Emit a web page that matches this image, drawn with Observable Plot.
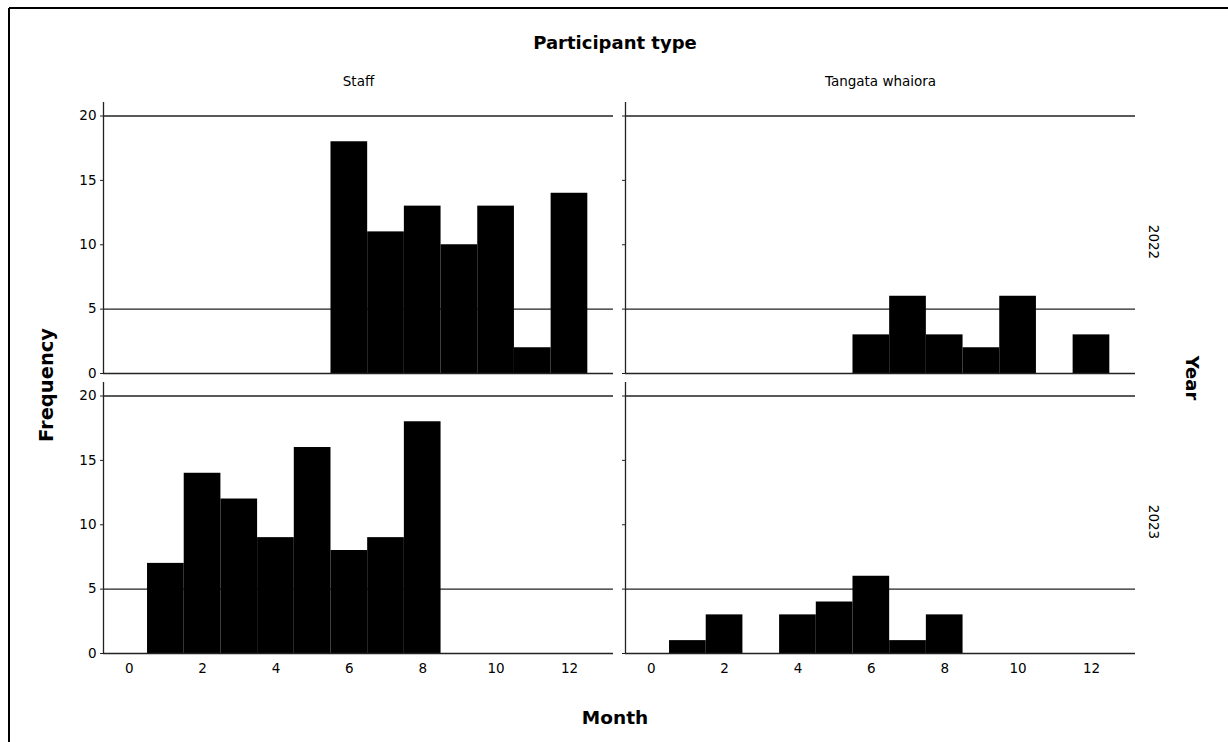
<!DOCTYPE html>
<html><head><meta charset="utf-8">
<script src="https://cdn.jsdelivr.net/npm/d3@7"></script>
<script src="https://cdn.jsdelivr.net/npm/@observablehq/plot@0.6"></script>
<style>body{margin:0;background:#fff;}</style>
</head><body><div id="chart"></div>
<script>
const types = ["Staff", "Tangata whaiora"];
const years = ["2022", "2023"];
const months = [1, 2, 3, 4, 5, 6, 7, 8, 9, 10, 11, 12];
// frequency per month (index 0 = month 1)
const staff2022 = [0, 0, 0, 0, 0, 18, 11, 13, 10, 13, 2, 14];
const tangata2022 = [0, 0, 0, 0, 0, 3, 6, 3, 2, 6, 0, 3];
const staff2023 = [7, 14, 12, 9, 16, 8, 9, 18, 0, 0, 0, 0];
const tangata2023 = [1, 3, 0, 3, 4, 6, 1, 3, 0, 0, 0, 0];
const xTicks = [0, 2, 4, 6, 8, 10, 12];
const yTicks = [0, 5, 10, 15, 20];
const gridValues = [5, 20];
const xDomain = [-0.7, 13.2];
const yDomain = [0, 21.05];

const series = [
  {type: "Staff", year: "2022", counts: staff2022},
  {type: "Tangata whaiora", year: "2022", counts: tangata2022},
  {type: "Staff", year: "2023", counts: staff2023},
  {type: "Tangata whaiora", year: "2023", counts: tangata2023}
];
const data = series.flatMap(s => months.map((m, i) => ({type: s.type, year: s.year, month: m, count: s.counts[i]})))
  .filter(d => d.count > 0);

const font = "'DejaVu Sans', 'Liberation Sans', Arial, sans-serif";
const lineColor = "#222";

const chart = Plot.plot({
  width: 1228, height: 742,
  marginLeft: 102, marginRight: 93, marginTop: 101, marginBottom: 88,
  style: {fontFamily: font, fontSize: "13.5px", color: "#000", background: "#fff"},
  x: {domain: xDomain},
  y: {domain: yDomain},
  fx: {domain: types, paddingInner: 0.023, paddingOuter: 0, axis: null},
  fy: {domain: years, paddingInner: 0.032, paddingOuter: 0, axis: null},
  marks: [
    Plot.ruleY(gridValues, {stroke: lineColor, strokeWidth: 1.3}),
    Plot.rectY(data, {x1: d => d.month - 0.5, x2: d => d.month + 0.5, y: "count", fx: "type", fy: "year", fill: "#000"}),
    Plot.ruleY([0], {stroke: lineColor, strokeWidth: 1.3}),
    Plot.ruleX([xDomain[0]], {stroke: lineColor, strokeWidth: 1.3}),
    Plot.axisY({ticks: yTicks, tickSize: 3, facetAnchor: null, tickFormat: () => "", label: null, stroke: lineColor}),
    Plot.axisY({ticks: yTicks, tickSize: 0, tickPadding: 7, label: null, fontSize: 13.5}),
    Plot.axisX({ticks: xTicks, tickSize: 0, tickPadding: 10, label: null, fontSize: 13.5}),
    Plot.text(types, {fx: d => d, fy: () => years[0], frameAnchor: "top", dy: -26, text: d => d, fontSize: 13.5}),
    Plot.text(years, {fy: d => d, fx: () => types[1], frameAnchor: "right", dx: 18, dy: 4, rotate: 90, textAnchor: "middle", text: d => d, fontSize: 13.5})
  ]
});
document.getElementById("chart").appendChild(chart);

const svg = d3.select(chart);
svg.append("line").attr("x1", 9).attr("x2", 1228).attr("y1", 8).attr("y2", 8).attr("stroke", "#000").attr("stroke-width", 2);
svg.append("line").attr("x1", 9).attr("x2", 9).attr("y1", 8).attr("y2", 742).attr("stroke", "#000").attr("stroke-width", 2);
const addTitle = (txt, x, y, size, rot) => svg.append("text")
  .attr("transform", `translate(${x},${y}) rotate(${rot})`)
  .attr("text-anchor", "middle").attr("dominant-baseline", "central")
  .attr("font-family", font).attr("font-weight", "bold").attr("font-size", size)
  .attr("fill", "#000").text(txt);
addTitle("Participant type", 615, 42, 18, 0);
addTitle("Frequency", 46, 385, 19.5, -90);
addTitle("Year", 1192, 378, 18, 90);
addTitle("Month", 615, 717, 18.5, 0);
</script>
</body></html>
